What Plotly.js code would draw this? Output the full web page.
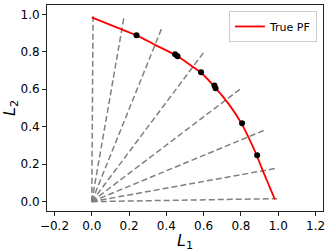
<!DOCTYPE html>
<html>
<head>
<meta charset="utf-8">
<script src="https://cdn.plot.ly/plotly-3.0.1.min.js"></script>
<style>html,body{margin:0;padding:0;background:#fff;}#chart{width:332px;height:252px;}</style>
</head>
<body>
<div id="chart"></div>
<script>
// True Pareto front
const pfX = [0.000, 0.060, 0.136, 0.240, 0.342, 0.453, 0.539, 0.586, 0.660, 0.737, 0.805, 0.844, 0.885, 0.916, 0.952, 0.982];
const pfY = [0.984, 0.960, 0.929, 0.888, 0.836, 0.780, 0.722, 0.688, 0.612, 0.518, 0.414, 0.336, 0.246, 0.168, 0.083, 0.012];
// Preference ray end points (rays start at the origin)
const rayX = [0.007, 0.172, 0.376, 0.602, 0.796, 0.925, 0.984, 0.995];
const rayY = [0.990, 0.981, 0.928, 0.799, 0.601, 0.381, 0.177, 0.016];
// Solutions found
const ptX = [0.240, 0.447, 0.460, 0.586, 0.658, 0.664, 0.806, 0.887];
const ptY = [0.888, 0.787, 0.777, 0.691, 0.620, 0.606, 0.419, 0.248];
const xTicks = [-0.2, 0.0, 0.2, 0.4, 0.6, 0.8, 1.0, 1.2];
const yTicks = [0.0, 0.2, 0.4, 0.6, 0.8, 1.0];

const rx = [], ry = [];
rayX.forEach((x, i) => { rx.push(0, x, null); ry.push(0, rayY[i], null); });

const traces = [
  {x: rx, y: ry, mode: 'lines', line: {color: '#808080', width: 1.5, dash: '6px,3px'}, showlegend: false, hoverinfo: 'skip'},
  {x: pfX, y: pfY, mode: 'lines', name: 'True PF', line: {color: '#ff0000', width: 1.8, shape: 'spline'}},
  {x: ptX, y: ptY, mode: 'markers', marker: {color: '#000000', size: 6}, showlegend: false}
];

const tickFont = {family: 'DejaVu Sans', size: 12, color: '#000'};
const legFont = {family: 'DejaVu Sans', size: 11, color: '#000'};
const axisCommon = {
  showline: true, mirror: true, linecolor: '#222', linewidth: 1,
  ticks: 'outside', ticklen: 4, tickwidth: 1, tickcolor: '#222',
  showgrid: false, zeroline: false, tickformat: '.1f', tickfont: tickFont
};
const layout = {
  width: 332, height: 252,
  margin: {l: 47, r: 9, t: 5, b: 41},
  paper_bgcolor: '#fff', plot_bgcolor: '#fff',
  font: tickFont,
  xaxis: Object.assign({}, axisCommon, {range: [-0.24, 1.24], tickvals: xTicks,
    title: {text: '<i>L</i><sub>1</sub>', font: {family: 'DejaVu Sans', size: 16, color: '#000'}, standoff: 3}}),
  yaxis: Object.assign({}, axisCommon, {range: [-0.05, 1.05], tickvals: yTicks,
    title: {text: '<i>L</i><sub>2</sub>', font: {family: 'DejaVu Sans', size: 16, color: '#000'}, standoff: 4}}),
  legend: {x: 0.978, xanchor: 'right', y: 0.971, yanchor: 'top', bgcolor: 'rgba(255,255,255,0.8)',
    bordercolor: '#cccccc', borderwidth: 1, font: legFont, itemwidth: 30, tracegroupgap: 0},
  showlegend: true
};
Plotly.newPlot('chart', traces, layout, {staticPlot: true, displayModeBar: false});
</script>
</body>
</html>
